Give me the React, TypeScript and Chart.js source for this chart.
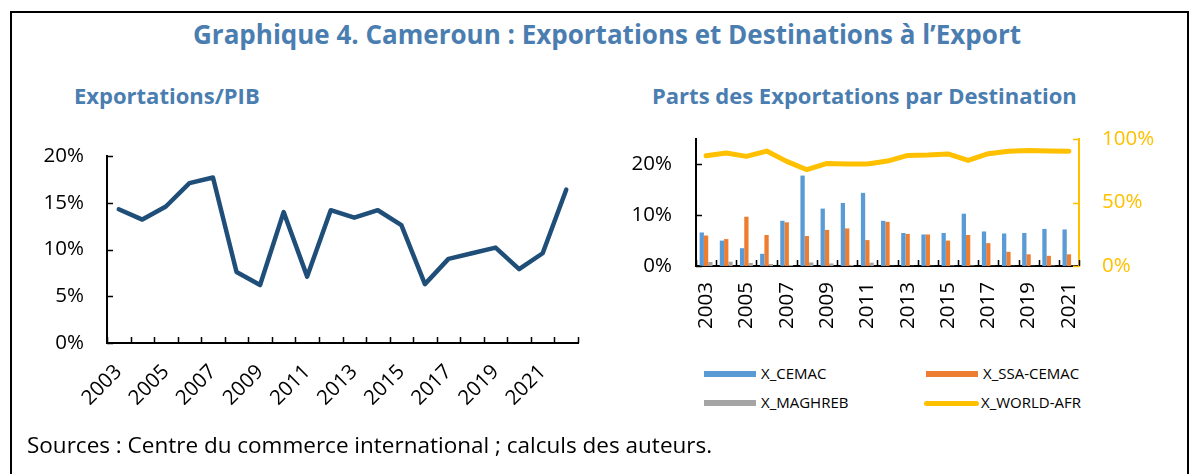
import React, { useEffect, useRef } from "react";
import { Chart, registerables } from "chart.js";

Chart.register(...registerables);

// ---------- DATA ----------
const yearsLeft = [
  "2003", "2004", "2005", "2006", "2007", "2008", "2009", "2010", "2011", "2012",
  "2013", "2014", "2015", "2016", "2017", "2018", "2019", "2020", "2021", "2022",
];
const exportsToGdp = [
  14.3, 13.2, 14.6, 17.1, 17.7, 7.6, 6.2, 14.0, 7.1, 14.2,
  13.4, 14.2, 12.6, 6.3, 9.0, 9.6, 10.2, 7.9, 9.6, 16.4,
];
const leftTickLabels = ["0%", "5%", "10%", "15%", "20%"];

const yearsRight = [
  "2003", "2004", "2005", "2006", "2007", "2008", "2009", "2010", "2011", "2012",
  "2013", "2014", "2015", "2016", "2017", "2018", "2019", "2020", "2021",
];
const xCemac = [6.6, 5.0, 3.5, 2.4, 8.9, 17.8, 11.3, 12.4, 14.4, 8.9, 6.5, 6.2, 6.5, 10.3, 6.8, 6.4, 6.5, 7.3, 7.2];
const xSsaCemac = [6.0, 5.3, 9.7, 6.1, 8.6, 5.9, 7.1, 7.4, 5.1, 8.7, 6.3, 6.2, 5.0, 6.1, 4.5, 2.8, 2.3, 2.0, 2.3];
const xMaghreb = [0.8, 0.85, 0.6, 0.4, 0.2, 0.7, 0.5, 0.2, 0.65, 0.05, 0.05, 0.05, 0.1, 0.1, 0.05, 0.05, 0.05, 0.1, 0.05];
const xWorldAfr = [86.8, 89.0, 86.3, 90.5, 82.4, 75.8, 80.8, 80.3, 80.3, 82.6, 87.1, 87.4, 88.2, 83.2, 88.4, 90.3, 91.0, 90.5, 90.3];
const rightLeftTicks = [0, 10, 20];
const rightRightTicks = [0, 50, 100];

const seriesNames = ["X_CEMAC", "X_SSA-CEMAC", "X_MAGHREB", "X_WORLD-AFR"];

// ---------- STYLE ----------
const FONT = "'Open Sans', sans-serif";
const TITLE_COLOR = "#4a7db0";
const C_BLUE = "#5b9bd5";
const C_ORANGE = "#ed7d31";
const C_GRAY = "#a5a5a5";
const C_YELLOW = "#ffc000";
const C_NAVY = "#1f4e79";
const AXIS_FONT = { family: FONT, size: 20.5 };

const insideTicks = {
  id: "insideTicks",
  afterDatasetsDraw(chart: any, _args: any, opts: any) {
    const ctx = chart.ctx;
    const len = opts.len ?? 6;
    ctx.save();
    ctx.lineWidth = 1.5;
    const xs = chart.scales.x;
    const n = chart.data.labels.length;
    const step = (xs.right - xs.left) / n;
    ctx.strokeStyle = "#000";
    ctx.beginPath();
    for (let i = 0; i <= n; i++) {
      const x = Math.round(xs.left + i * step) + 0.5;
      ctx.moveTo(x, xs.top);
      ctx.lineTo(x, xs.top - len);
    }
    ctx.stroke();
    for (const def of opts.y || []) {
      const s = chart.scales[def.id];
      ctx.strokeStyle = def.color;
      ctx.beginPath();
      for (const t of s.ticks) {
        const y = Math.round(s.getPixelForValue(t.value)) + 0.5;
        if (s.position === "left") {
          ctx.moveTo(s.right, y);
          ctx.lineTo(s.right + len, y);
        } else {
          ctx.moveTo(s.left, y);
          ctx.lineTo(s.left - len, y);
        }
      }
      ctx.stroke();
    }
    ctx.restore();
  },
};

const fixV = (w: number) => (s: any) => {
  s.width = w;
  s.paddingTop = 0;
  s.paddingBottom = 0;
};

function LeftChart() {
  const ref = useRef<HTMLCanvasElement>(null);
  useEffect(() => {
    const chart = new Chart(ref.current!, {
      type: "line",
      data: {
        labels: yearsLeft,
        datasets: [
          {
            label: "Exportations/PIB",
            data: exportsToGdp,
            borderColor: C_NAVY,
            borderWidth: 4.5,
            pointRadius: 0,
            tension: 0,
            borderCapStyle: "round",
            borderJoinStyle: "round",
            fill: false,
          },
        ],
      },
      options: {
        responsive: false,
        animation: false,
        devicePixelRatio: 1,
        layout: { padding: { top: 16, right: 22, left: 0, bottom: 0 } },
        plugins: {
          legend: { display: false },
          tooltip: { enabled: false },
          insideTicks: { len: 6, y: [{ id: "y", color: "#000" }] },
        } as any,
        scales: {
          x: {
            type: "category",
            offset: true,
            grid: { display: false, offset: true },
            border: { display: true, color: "#000", width: 2 },
            ticks: {
              autoSkip: false,
              minRotation: 45,
              maxRotation: 45,
              padding: 9,
              color: "#000",
              font: AXIS_FONT,
              callback: (_v: any, i: number) => (i % 2 === 0 ? yearsLeft[i] : ""),
            },
            afterFit: (s: any) => {
              s.height = 87;
            },
          },
          y: {
            min: 0,
            max: 20,
            grid: { display: false, drawTicks: false },
            border: { display: true, color: "#000", width: 2 },
            ticks: {
              stepSize: 5,
              padding: 23,
              color: "#000",
              font: AXIS_FONT,
              callback: (_v: any, i: number) => leftTickLabels[i],
            },
            afterFit: fixV(87),
          },
        },
      },
      plugins: [insideTicks as any],
    });
    return () => chart.destroy();
  }, []);
  return (
    <canvas
      ref={ref}
      width={580}
      height={290}
      style={{ position: "absolute", left: 20, top: 140, width: 580, height: 290 }}
    />
  );
}

function RightChart() {
  const ref = useRef<HTMLCanvasElement>(null);
  useEffect(() => {
    const barCommon = { yAxisID: "y", barPercentage: 1, categoryPercentage: 0.64, order: 1 };
    const chart = new Chart(ref.current!, {
      type: "bar",
      data: {
        labels: yearsRight,
        datasets: [
          {
            type: "line",
            label: seriesNames[3],
            data: xWorldAfr,
            yAxisID: "y1",
            borderColor: C_YELLOW,
            borderWidth: 5,
            pointRadius: 0,
            tension: 0,
            borderCapStyle: "round",
            borderJoinStyle: "round",
            order: 0,
          } as any,
          { label: seriesNames[0], data: xCemac, backgroundColor: C_BLUE, ...barCommon },
          { label: seriesNames[1], data: xSsaCemac, backgroundColor: C_ORANGE, ...barCommon },
          { label: seriesNames[2], data: xMaghreb, backgroundColor: C_GRAY, ...barCommon },
        ],
      },
      options: {
        responsive: false,
        animation: false,
        devicePixelRatio: 1,
        layout: { padding: { top: 14, right: 0, left: 0, bottom: 0 } },
        plugins: {
          legend: { display: false },
          tooltip: { enabled: false },
          insideTicks: {
            len: 6,
            y: [
              { id: "y", color: "#000" },
              { id: "y1", color: C_YELLOW },
            ],
          },
        } as any,
        scales: {
          x: {
            type: "category",
            offset: true,
            grid: { display: false, offset: true },
            border: { display: true, color: "#000", width: 2 },
            ticks: {
              autoSkip: false,
              minRotation: 90,
              maxRotation: 90,
              padding: 8,
              color: "#000",
              font: AXIS_FONT,
              callback: (_v: any, i: number) => (i % 2 === 0 ? yearsRight[i] : ""),
            },
            afterFit: (s: any) => {
              s.height = 84;
            },
          },
          y: {
            position: "left",
            min: 0,
            max: 25,
            grid: { display: false, drawTicks: false },
            border: { display: true, color: "#000", width: 2 },
            afterBuildTicks: (s: any) => {
              s.ticks = rightLeftTicks.map((v) => ({ value: v }));
            },
            ticks: {
              padding: 24,
              color: "#000",
              font: AXIS_FONT,
              callback: (v: any) => `${v}%`,
            },
            afterFit: fixV(86),
          },
          y1: {
            position: "right",
            min: 0,
            max: 100,
            grid: { display: false, drawTicks: false },
            border: { display: true, color: C_YELLOW, width: 2 },
            afterBuildTicks: (s: any) => {
              s.ticks = rightRightTicks.map((v) => ({ value: v }));
            },
            ticks: {
              padding: 23,
              color: C_YELLOW,
              font: AXIS_FONT,
              callback: (v: any) => `${v}%`,
            },
            afterFit: fixV(80),
          },
        },
      },
      plugins: [insideTicks as any],
    });
    return () => chart.destroy();
  }, []);
  return (
    <canvas
      ref={ref}
      width={549}
      height={225}
      style={{ position: "absolute", left: 610, top: 125, width: 549, height: 225 }}
    />
  );
}

const txt = (extra: React.CSSProperties): React.CSSProperties => ({
  position: "absolute",
  whiteSpace: "nowrap",
  fontFamily: FONT,
  lineHeight: 1,
  ...extra,
});

function LegendItem({ left, top, color, label, line }: { left: number; top: number; color: string; label: string; line?: boolean }) {
  return (
    <>
      <div
        style={{
          position: "absolute",
          left,
          top: line ? top - 2.5 : top - 3,
          width: line ? 55 : 52,
          height: line ? 5 : 6,
          background: color,
          borderRadius: line ? 3 : 0,
        }}
      />
      <div style={txt({ left: left + 57, top: top - 8.5, fontSize: 15, color: "#000" })}>{label}</div>
    </>
  );
}

export default function App() {
  return (
    <div
      style={{
        position: "absolute",
        left: 0,
        top: 0,
        width: 1189,
        height: 474,
        background: "#fff",
        overflow: "hidden",
      }}
    >
      <div
        style={{
          position: "absolute",
          left: 10,
          top: 11,
          width: 1175,
          height: 500,
          border: "2px solid #000",
        }}
      />
      <div style={txt({ left: 107, top: 21, width: 1000, textAlign: "center", fontSize: 26, fontWeight: 700, color: TITLE_COLOR })}>
        Graphique 4. Cameroun : Exportations et Destinations à l’Export
      </div>
      <div style={txt({ left: 74, top: 84, fontSize: 22, fontWeight: 700, color: TITLE_COLOR })}>Exportations/PIB</div>
      <div style={txt({ left: 652, top: 84, fontSize: 22, fontWeight: 700, color: TITLE_COLOR })}>
        Parts des Exportations par Destination
      </div>
      <LeftChart />
      <RightChart />
      <LegendItem left={704} top={374} color={C_BLUE} label={seriesNames[0]} />
      <LegendItem left={926} top={374} color={C_ORANGE} label={seriesNames[1]} />
      <LegendItem left={704} top={403} color={C_GRAY} label={seriesNames[2]} />
      <LegendItem left={924} top={403} color={C_YELLOW} label={seriesNames[3]} line />
      <div style={txt({ left: 27, top: 434, fontSize: 22.5, color: "#000" })}>
        Sources : Centre du commerce international ; calculs des auteurs.
      </div>
    </div>
  );
}
